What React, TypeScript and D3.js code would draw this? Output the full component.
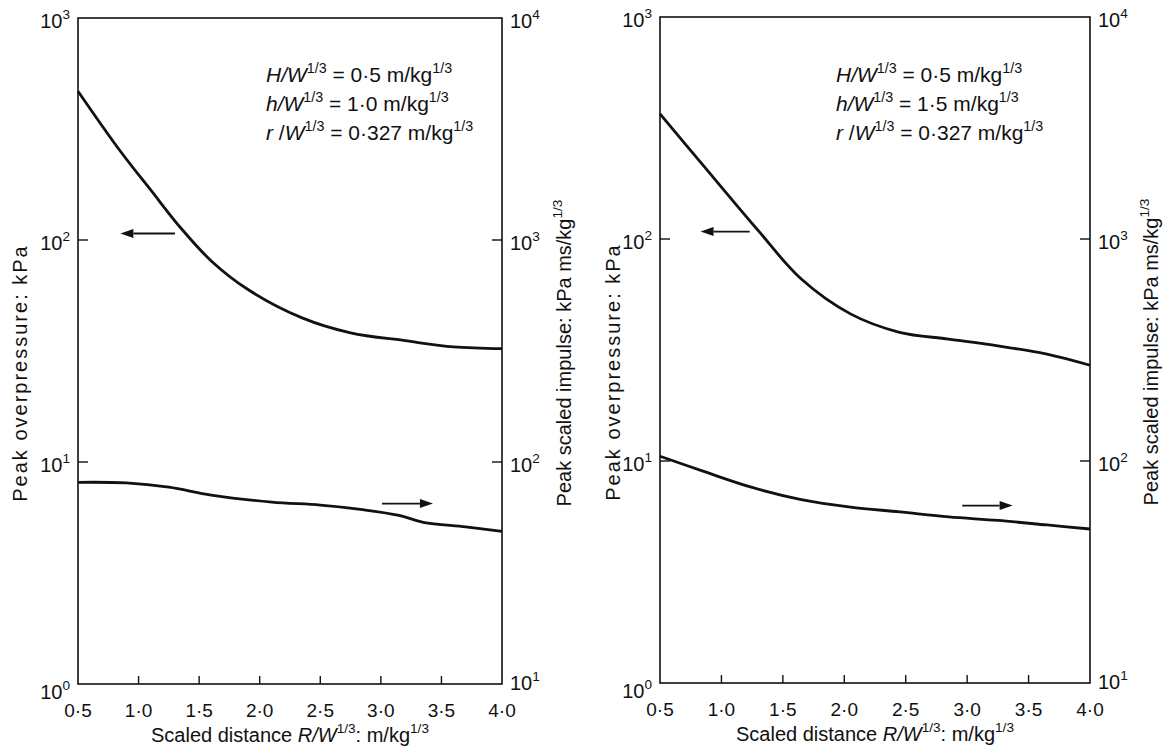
import * as d3 from 'd3';
import React from 'react';

const WIDTH = 1166;
const HEIGHT = 748;
const FONT = '"Liberation Sans", Arial, Helvetica, sans-serif';
const INK = '#111';

const xTicks = [0.5, 1.0, 1.5, 2.0, 2.5, 3.0, 3.5, 4.0];
const pressureTicks = [1, 10, 100, 1000];
const impulseTicks = [10, 100, 1000, 10000];

// panel A: h/W^1/3 = 1.0
const aPressureX = [0.5, 0.85, 1.1, 1.35, 1.6, 1.9, 2.35, 2.75, 3.2, 3.6, 4.0];
const aPressure = [468, 251, 168, 113, 80.5, 60, 44.6, 38.2, 35.2, 33.0, 32.4];
const aImpulseX = [0.5, 0.9, 1.25, 1.6, 2.1, 2.5, 2.85, 3.15, 3.35, 3.7, 4.0];
const aImpulse = [81, 80.5, 77, 71, 66, 64, 61, 57.5, 53.5, 51, 48.7];
const aParams = ['0·5', '1·0', '0·327'];

// panel B: h/W^1/3 = 1.5
const bPressureX = [0.5, 0.85, 1.3, 1.65, 2.05, 2.45, 2.85, 3.25, 3.65, 4.0];
const bPressure = [366, 215, 109, 66, 46, 38, 35.4, 33, 30.3, 27];
const bImpulseX = [0.5, 0.85, 1.25, 1.65, 2.05, 2.45, 2.85, 3.25, 3.65, 4.0];
const bImpulse = [105, 90, 76, 67, 62, 59, 56, 54, 51.5, 49.4];
const bParams = ['0·5', '1·5', '0·327'];

type Seg = { t: string; sup?: boolean; it?: boolean };

function Rich({ x, y, segs, size, anchor = 'start', transform, spacing }: {
    x: number; y: number; segs: Seg[]; size: number; anchor?: string; transform?: string; spacing?: number;
}) {
    const shift = size * 0.45;
    let up = false;
    return (
        <text x={x} y={y} fontSize={size} textAnchor={anchor} transform={transform} fill={INK}
            fontFamily={FONT} letterSpacing={spacing}>
            {segs.map((s, i) => {
                let dy = 0;
                if (s.sup && !up) { dy = -shift; up = true; }
                else if (!s.sup && up) { dy = shift; up = false; }
                return (
                    <tspan key={i} dy={dy || undefined} fontSize={s.sup ? size * 0.68 : undefined}
                        fontStyle={s.it ? 'italic' : undefined}>{s.t}</tspan>
                );
            })}
        </text>
    );
}

const pow = (v: number): Seg[] => [{ t: '10' }, { t: String(Math.round(Math.log10(v))), sup: true }];
const fmt = (v: number) => v.toFixed(1).replace('.', '·');

function Arrow({ x1, x2, y }: { x1: number; x2: number; y: number }) {
    const dir = Math.sign(x2 - x1);
    const hl = 13, hw = 4.5;
    return (
        <g>
            <line x1={x1} x2={x2 - dir * hl} y1={y} y2={y} stroke={INK} strokeWidth={1.8} />
            <path d={`M${x2},${y}L${x2 - dir * hl},${y - hw}L${x2 - dir * hl},${y + hw}Z`} fill={INK} />
        </g>
    );
}

function Panel({ left, right, top, bottom, pX, p, iX, imp, params, arrowL, arrowR, noteX, titleX }: any) {
    const x = d3.scaleLinear().domain([0.5, 4.0]).range([left, right]);
    const yP = d3.scaleLog().domain([1, 1000]).range([bottom, top]);
    const yI = d3.scaleLog().domain([10, 10000]).range([bottom, top]);
    const line = d3.line<[number, number]>().curve(d3.curveCatmullRom.alpha(0.5));
    const pPath = line(pX.map((v: number, i: number) => [x(v), yP(p[i])]));
    const iPath = line(iX.map((v: number, i: number) => [x(v), yI(imp[i])]));
    const u: Seg = { t: '1/3', sup: true };
    const notes: Seg[][] = [
        [{ t: 'H/W', it: true }, u, { t: ` = ${params[0]} m/kg` }, u],
        [{ t: 'h/W', it: true }, u, { t: ` = ${params[1]} m/kg` }, u],
        [{ t: 'r', it: true }, { t: ' /' }, { t: 'W', it: true }, u, { t: ` = ${params[2]} m/kg` }, u],
    ];
    return (
        <g>
            <rect x={left} y={top} width={right - left} height={bottom - top} fill="none" stroke={INK} strokeWidth={1.6} />
            {xTicks.slice(1, -1).map((t) => (
                <line key={t} x1={x(t)} x2={x(t)} y1={bottom} y2={bottom - 8} stroke={INK} strokeWidth={1.4} />
            ))}
            {xTicks.map((t) => (
                <text key={t} x={x(t)} y={bottom + 33} fontSize={19} textAnchor="middle" fill={INK} fontFamily={FONT}>{fmt(t)}</text>
            ))}
            {pressureTicks.slice(1, -1).map((t) => (
                <line key={t} x1={left} x2={left + 10} y1={yP(t)} y2={yP(t)} stroke={INK} strokeWidth={1.4} />
            ))}
            {impulseTicks.slice(1, -1).map((t) => (
                <line key={t} x1={right} x2={right - 10} y1={yI(t)} y2={yI(t)} stroke={INK} strokeWidth={1.4} />
            ))}
            {pressureTicks.map((t, i) => (
                <Rich key={t} x={left - 8} y={i === 0 ? bottom + 15 : yP(t) + 10} segs={pow(t)} size={20} anchor="end" />
            ))}
            {impulseTicks.map((t, i) => (
                <Rich key={t} x={right + 8} y={i === 0 ? bottom + 6 : yI(t) + 10} segs={pow(t)} size={20} />
            ))}
            <path d={pPath ?? ''} fill="none" stroke={INK} strokeWidth={2.8} />
            <path d={iPath ?? ''} fill="none" stroke={INK} strokeWidth={2.8} />
            <Arrow x1={x(arrowL[1])} x2={x(arrowL[0])} y={yP(arrowL[2])} />
            <Arrow x1={x(arrowR[0])} x2={x(arrowR[1])} y={yI(arrowR[2])} />
            {notes.map((segs, i) => (
                <Rich key={i} x={noteX} y={82 + i * 29} segs={segs} size={21} />
            ))}
            <Rich x={(left + right) / 2} y={bottom + 58} size={20} anchor="middle"
                segs={[{ t: 'Scaled distance ' }, { t: 'R/W', it: true }, u, { t: ': m/kg' }, u]} />
            <Rich x={0} y={0} size={20} anchor="middle" spacing={2}
                transform={`translate(${titleX[0]},${(top + bottom) / 2 + 22}) rotate(-90)`}
                segs={[{ t: 'Peak overpressure: kPa' }]} />
            <Rich x={0} y={0} size={20} anchor="middle"
                transform={`translate(${titleX[1]},${(top + bottom) / 2 + 2}) rotate(-90)`}
                segs={[{ t: 'Peak scaled impulse: kPa ms/kg' }, u]} />
        </g>
    );
}

export default function App() {
    return (
        <svg width={WIDTH} height={HEIGHT} style={{ position: 'absolute', left: 0, top: 0, background: '#fff' }}>
            <rect width={WIDTH} height={HEIGHT} fill="#fff" />
            <Panel left={78} right={502} top={18} bottom={684} pX={aPressureX} p={aPressure} iX={aImpulseX} imp={aImpulse}
                params={aParams} arrowL={[0.85, 1.3, 107]} arrowR={[3.01, 3.43, 65]} noteX={266} titleX={[27, 571]} />
            <Panel left={660} right={1090} top={17} bottom={683} pX={bPressureX} p={bPressure} iX={bImpulseX} imp={bImpulse}
                params={bParams} arrowL={[0.83, 1.23, 108]} arrowR={[2.96, 3.37, 63]} noteX={836} titleX={[620, 1158]} />
        </svg>
    );
}
